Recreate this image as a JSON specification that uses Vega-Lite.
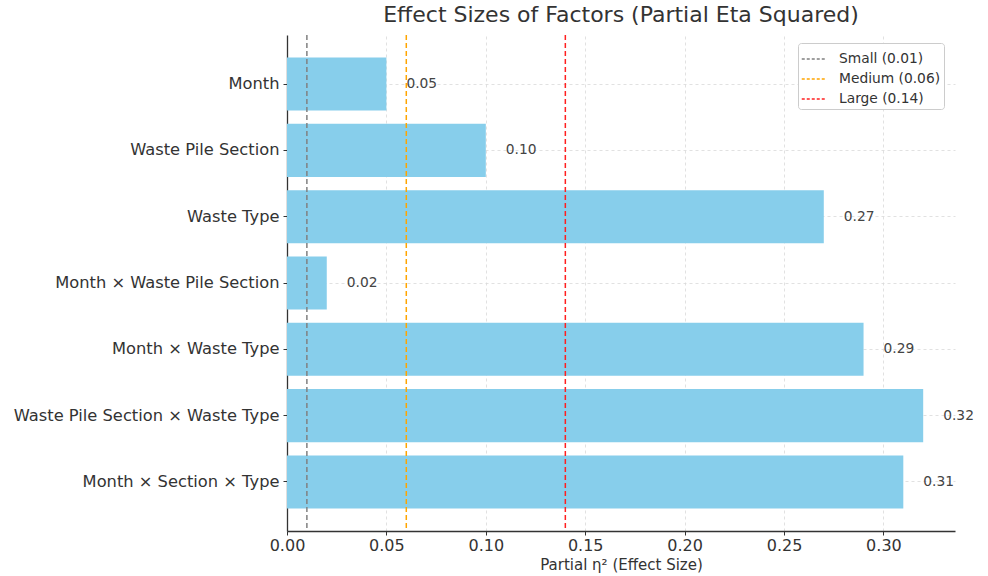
{
  "$schema": "https://vega.github.io/schema/vega-lite/v6.json",
  "width": 668,
  "height": 496,
  "autosize": {"type": "none"},
  "padding": {"left": 287, "top": 35, "right": 33, "bottom": 45},
  "background": "white",
  "title": {
    "text": "Effect Sizes of Factors (Partial Eta Squared)",
    "font": "DejaVu Sans",
    "fontSize": 22,
    "fontWeight": "normal",
    "color": "#333333",
    "anchor": "middle",
    "offset": 7
  },
  "config": {
    "view": {"stroke": null},
    "font": "DejaVu Sans",
    "axis": {
      "labelFont": "DejaVu Sans",
      "titleFont": "DejaVu Sans",
      "labelColor": "#333333",
      "titleColor": "#333333",
      "domainColor": "#333333",
      "domainWidth": 1.3,
      "tickColor": "#333333",
      "gridColor": "#d9d9d9",
      "gridDash": [3, 3],
      "gridWidth": 0.8
    }
  },
  "datasets": {
    "effects": [
      {"factor": "Month", "eta": 0.05, "label": "0.05"},
      {"factor": "Waste Pile Section", "eta": 0.10, "label": "0.10"},
      {"factor": "Waste Type", "eta": 0.27, "label": "0.27"},
      {"factor": "Month × Waste Pile Section", "eta": 0.02, "label": "0.02"},
      {"factor": "Month × Waste Type", "eta": 0.29, "label": "0.29"},
      {"factor": "Waste Pile Section × Waste Type", "eta": 0.32, "label": "0.32"},
      {"factor": "Month × Section × Type", "eta": 0.31, "label": "0.31"}
    ],
    "thresholds": [
      {"level": "Small (0.01)", "value": 0.01},
      {"level": "Medium (0.06)", "value": 0.06},
      {"level": "Large (0.14)", "value": 0.14}
    ]
  },
  "layer": [
    {
      "data": {"name": "effects"},
      "mark": {"type": "bar", "color": "#87CEEB"},
      "encoding": {
        "y": {
          "field": "factor",
          "type": "nominal",
          "sort": null,
          "scale": {"paddingInner": 0.2, "paddingOuter": 0.34},
          "axis": {
            "title": null,
            "labelFontSize": 16.3,
            "labelPadding": 4,
            "tickSize": 4,
            "grid": true,
            "bandPosition": 0.5,
            "labelLimit": 400
          }
        },
        "x": {
          "field": "eta",
          "type": "quantitative",
          "scale": {"domain": [0, 0.336], "nice": false, "zero": true},
          "axis": {
            "title": "Partial η² (Effect Size)",
            "titleFontSize": 15,
            "titleFontWeight": "normal",
            "titlePadding": 4,
            "labelFontSize": 16,
            "labelPadding": 2,
            "tickSize": 4,
            "values": [0, 0.05, 0.1, 0.15, 0.2, 0.25, 0.3],
            "format": ".2f",
            "grid": true,
            "labelFlush": false
          }
        }
      }
    },
    {
      "data": {"name": "effects"},
      "mark": {"type": "text", "align": "left", "baseline": "middle", "dx": 20, "fontSize": 13.8, "color": "#444444", "font": "DejaVu Sans"},
      "encoding": {
        "y": {"field": "factor", "type": "nominal", "sort": null},
        "x": {"field": "eta", "type": "quantitative"},
        "text": {"field": "label"}
      }
    },
    {
      "data": {"name": "thresholds"},
      "mark": {"type": "rule", "strokeDash": [5, 3], "strokeWidth": 1.5},
      "encoding": {
        "x": {"field": "value", "type": "quantitative"},
        "color": {
          "field": "level",
          "type": "nominal",
          "sort": null,
          "scale": {"domain": ["Small (0.01)", "Medium (0.06)", "Large (0.14)"], "range": ["#808080", "#FFA500", "#FF2020"]},
          "legend": {
            "title": null,
            "orient": "none",
            "legendX": 511,
            "legendY": 8,
            "symbolType": "stroke",
            "symbolDash": [3, 2],
            "symbolStrokeWidth": 1.5,
            "symbolSize": 600,
            "labelFontSize": 13.8,
            "labelColor": "#333333",
            "labelFont": "DejaVu Sans",
            "labelOffset": 12,
            "rowPadding": 0,
            "padding": 3,
            "fillColor": "white",
            "strokeColor": "#cccccc",
            "cornerRadius": 3
          }
        }
      }
    }
  ]
}
